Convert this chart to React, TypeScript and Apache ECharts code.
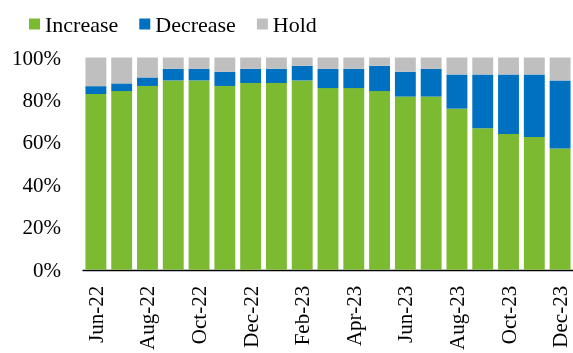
import React, { useEffect, useRef } from "react";
import * as echarts from "echarts";

// Monthly policy rate decisions, share of decisions (%)
const months = [
  "Jun-22", "Jul-22", "Aug-22", "Sep-22", "Oct-22", "Nov-22", "Dec-22",
  "Jan-23", "Feb-23", "Mar-23", "Apr-23", "May-23", "Jun-23", "Jul-23",
  "Aug-23", "Sep-23", "Oct-23", "Nov-23", "Dec-23",
];
const increaseShare = [
  82.8, 84.2, 86.6, 89.2, 89.2, 86.6, 88.0, 88.0, 89.2, 85.6,
  85.6, 84.2, 81.6, 81.6, 75.9, 66.7, 64.0, 62.6, 57.2,
];
const decreaseShare = [
  3.7, 3.6, 4.0, 5.5, 5.5, 6.7, 6.7, 6.7, 6.9, 9.1,
  9.1, 11.9, 11.7, 13.1, 16.1, 25.3, 28.0, 29.4, 32.0,
];
const holdShare = [
  13.5, 12.2, 9.4, 5.3, 5.3, 6.7, 5.3, 5.3, 3.9, 5.3,
  5.3, 3.9, 6.7, 5.3, 8.0, 8.0, 8.0, 8.0, 10.8,
];
const yTicks = [0, 20, 40, 60, 80, 100];

const FONT = "'Liberation Serif', 'DejaVu Serif', serif";

export default function App() {
  const ref = useRef<HTMLDivElement>(null);

  useEffect(() => {
    if (!ref.current) return;
    const chart = echarts.init(ref.current, undefined, { renderer: "svg" });
    const barStyle = (color: string) => ({
      type: "bar" as const,
      stack: "share",
      barCategoryGap: "19%",
      itemStyle: { color },
      emphasis: { disabled: true },
    });
    chart.setOption({
      animation: false,
      textStyle: { fontFamily: FONT },
      graphic: [
        {
          type: "text",
          left: 28,
          top: -24,
          style: {
            text: "Increasing Policy Rate Decisions",
            fill: "#F79646",
            font: `22px ${FONT}`,
          },
        },
      ],
      legend: {
        left: 24,
        top: 8,
        icon: "rect",
        itemWidth: 11,
        itemHeight: 11,
        itemGap: 21,
        textStyle: { fontFamily: FONT, fontSize: 22, color: "#000" },
        data: ["Increase", "Decrease", "Hold"],
      },
      grid: { left: 83, right: -4, top: 57.5, bottom: 77.5, containLabel: false },
      xAxis: {
        type: "category",
        data: months,
        axisLine: { lineStyle: { color: "#000", width: 1.3 } },
        axisTick: { show: false },
        axisLabel: {
          interval: 1,
          rotate: 90,
          margin: 16,
          color: "#000",
          fontFamily: FONT,
          fontSize: 21,
        },
      },
      yAxis: {
        type: "value",
        min: yTicks[0],
        max: yTicks[yTicks.length - 1],
        interval: 20,
        axisLine: { show: false },
        axisTick: { show: false },
        splitLine: { show: false },
        axisLabel: {
          margin: 22,
          color: "#000",
          fontFamily: FONT,
          fontSize: 21,
          formatter: (v: number) => `${v}%`,
        },
      },
      series: [
        { name: "Increase", data: increaseShare, ...barStyle("#7CBB31") },
        { name: "Decrease", data: decreaseShare, ...barStyle("#0070C0") },
        { name: "Hold", data: holdShare, ...barStyle("#BFBFBF") },
      ],
    });
    return () => chart.dispose();
  }, []);

  return (
    <div
      ref={ref}
      style={{ position: "fixed", left: 0, top: 0, width: 573, height: 353 }}
    />
  );
}
